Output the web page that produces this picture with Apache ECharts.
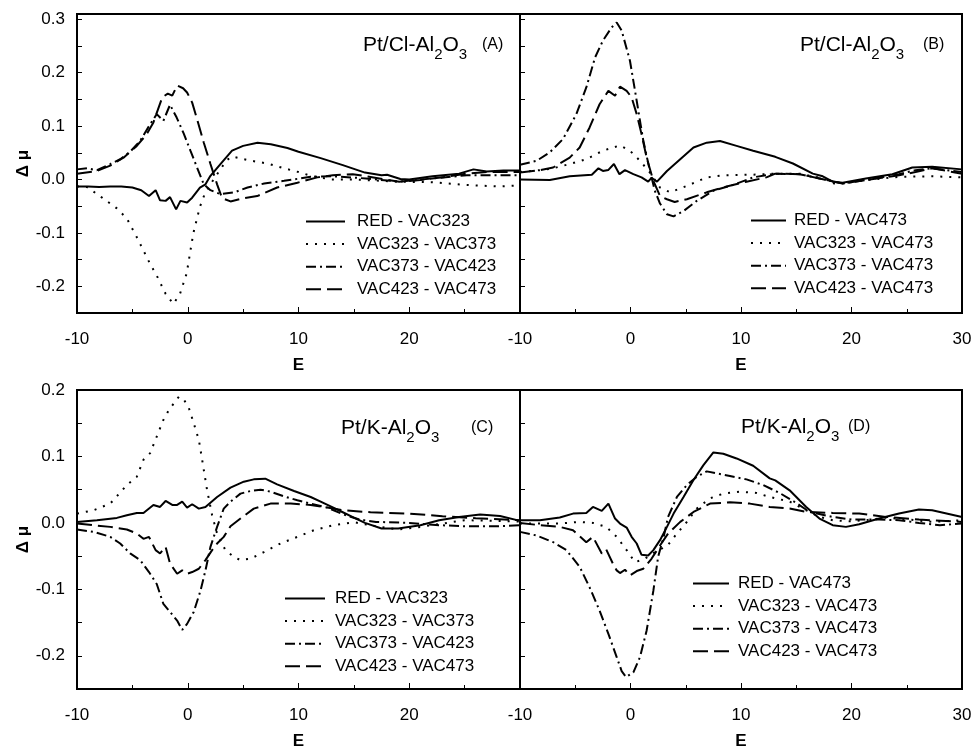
<!DOCTYPE html>
<html>
<head>
<meta charset="utf-8">
<script src="https://cdn.jsdelivr.net/npm/echarts@6/dist/echarts.min.js"></script>
<style>
  html, body { margin: 0; padding: 0; background: #fff; }
  #chart { width: 972px; height: 746px; }
</style>
</head>
<body>
<div id="chart"></div>
<script>
// ---- tick labels ----
const X_LABELS = [-10, 0, 10, 20, 30];
const Y_LABELS_TOP = [-0.2, -0.1, 0.0, 0.1, 0.2, 0.3];
const Y_LABELS_BOTTOM = [-0.2, -0.1, 0.0, 0.1, 0.2];

// ---- legend names ----
const NAMES_AC = ['RED - VAC323', 'VAC323 - VAC373', 'VAC373 - VAC423', 'VAC423 - VAC473'];
const NAMES_BD = ['RED - VAC473', 'VAC323 - VAC473', 'VAC373 - VAC473', 'VAC423 - VAC473'];

// ---- panel labels ----
const SAMPLES = ['Pt/Cl-Al', 'Pt/Cl-Al', 'Pt/K-Al', 'Pt/K-Al'];
const PANEL_TAGS = ['(A)', '(B)', '(C)', '(D)'];

// ---- Panel A : Pt/Cl-Al2O3, successive differences ----
const A_RED = [[-10,-0.013],[-9,-0.013],[-8,-0.014],[-7,-0.013],[-6,-0.013],[-5,-0.015],[-4.2,-0.02],[-3.5,-0.031],[-2.9,-0.02],[-2.5,-0.039],[-2,-0.04],[-1.6,-0.033],[-1.05,-0.056],[-0.66,-0.04],[-0.06,-0.043],[0.4,-0.034],[1.1,-0.015],[1.6,-0.009],[2.05,0.007],[2.95,0.029],[4,0.054],[5,0.063],[6.3,0.069],[7.5,0.066],[9,0.059],[10,0.052],[12,0.04],[14,0.027],[16,0.013],[17.5,0.008],[18,0.009],[19.2,0.001],[20,0.0],[22.1,0.006],[24.5,0.011],[25.8,0.019],[27,0.015],[28.5,0.017],[30,0.017]];
const A_VAC323 = [[-10,-0.013],[-9.1,-0.014],[-7.8,-0.033],[-6.4,-0.054],[-5.5,-0.073],[-4.6,-0.108],[-3.4,-0.158],[-2.8,-0.18],[-2,-0.214],[-1.3,-0.233],[-0.7,-0.214],[-0.1,-0.176],[0.5,-0.101],[1.1,-0.051],[1.55,-0.026],[2.3,-0.001],[3.5,0.036],[4,0.043],[5.5,0.036],[7.2,0.03],[8.7,0.021],[10,0.014],[11.3,0.006],[13,0.0],[15,0.0],[17,-0.002],[19,-0.004],[22,-0.005],[25,-0.01],[28,-0.013],[30,-0.011]];
const A_VAC373 = [[-10,0.019],[-9.1,0.021],[-8.2,0.0175],[-7,0.029],[-6.1,0.038],[-5.2,0.052],[-4.3,0.0725],[-3.5,0.1],[-2.8,0.1225],[-2.2,0.11],[-1.6,0.14],[-1,0.116],[-0.36,0.086],[0.24,0.054],[0.84,0.0225],[1.45,-0.009],[2.05,-0.02],[2.95,-0.0275],[4.2,-0.024],[5.4,-0.015],[6.9,-0.0075],[8.7,-0.0025],[11.1,0.005],[13.1,0.006],[16.1,0.002],[19.1,-0.004],[22.1,0.002],[25.2,0.008],[28.2,0.008],[30,0.008]];
const A_VAC423 = [[-10,0.011],[-8.2,0.016],[-7,0.026],[-5.8,0.041],[-4.6,0.063],[-3.7,0.085],[-3.1,0.107],[-2.3,0.154],[-1.8,0.161],[-1.4,0.157],[-0.96,0.176],[-0.42,0.171],[-0.06,0.163],[0.4,0.144],[0.84,0.113],[1.45,0.069],[2.05,0.029],[2.65,-0.009],[3.1,-0.035],[3.86,-0.041],[5.06,-0.035],[6.27,-0.031],[8.07,-0.015],[9.9,-0.006],[11.7,0.004],[13.1,0.008],[14.9,0.01],[17.3,0.002],[19.1,-0.004],[21,-0.001],[23.3,0.005],[25.2,0.011],[27,0.014],[30,0.014]];

// ---- Panel B : Pt/Cl-Al2O3, differences against VAC473 ----
const B_RED = [[-10,0.0],[-7.3,-0.001],[-5.5,0.006],[-3.5,0.009],[-2.9,0.021],[-2.5,0.016],[-2,0.018],[-1.5,0.029],[-1,0.01],[-0.5,0.0175],[0.26,0.01],[1,0.004],[1.6,-0.004],[1.9,0.003],[2.4,-0.004],[3.3,0.016],[4.5,0.038],[5.7,0.06],[6.9,0.069],[8.1,0.072],[9.6,0.063],[11.1,0.054],[13.1,0.0425],[14.7,0.03],[16.5,0.011],[17.4,0.006],[18.3,-0.004],[19.2,-0.006],[21.3,0.002],[23.7,0.01],[25.5,0.0225],[27.3,0.024],[30,0.019]];
const B_VAC323 = [[-10,0.014],[-8.2,0.0175],[-7,0.021],[-5.5,0.029],[-4,0.038],[-2.5,0.054],[-0.95,0.064],[-0.05,0.054],[0.86,0.035],[1.76,0.013],[2.67,-0.015],[3.6,-0.024],[5.1,-0.012],[6.9,0.004],[8.4,0.008],[11.1,0.009],[13.1,0.011],[15.3,0.011],[17.4,0.002],[18.6,-0.009],[21.3,-0.001],[24.3,0.005],[27.3,0.006],[30,0.004]];
const B_VAC373 = [[-10,0.0275],[-8.5,0.035],[-7.3,0.051],[-6.1,0.076],[-4.9,0.1225],[-4,0.1725],[-3.2,0.229],[-2.5,0.26],[-1.7,0.285],[-1.25,0.294],[-0.8,0.279],[-0.05,0.2225],[0.56,0.1475],[1.16,0.0725],[1.76,0.016],[2.2,-0.021],[2.67,-0.045],[3.3,-0.065],[3.9,-0.069],[4.8,-0.059],[6,-0.04],[7.5,-0.021],[9.3,-0.01],[11.1,0.004],[13.1,0.011],[15.3,0.01],[17.1,0.002],[19.2,-0.0075],[21.3,-0.001],[24.3,0.01],[25.8,0.0175],[27.3,0.021],[30,0.014]];
const B_VAC423 = [[-10,0.013],[-8.2,0.0175],[-7,0.0225],[-5.5,0.041],[-4.6,0.06],[-3.7,0.0975],[-2.8,0.141],[-2,0.166],[-1.4,0.157],[-0.95,0.174],[-0.35,0.166],[0.1,0.154],[0.56,0.1225],[1,0.085],[1.46,0.041],[2.07,-0.0025],[2.67,-0.031],[3.3,-0.037],[4,-0.042],[5.1,-0.037],[6.9,-0.024],[8.7,-0.013],[10.5,-0.004],[12.3,0.004],[13.1,0.011],[15.3,0.01],[17.1,0.002],[19.2,-0.0075],[21.3,-0.001],[24.3,0.008],[25.8,0.014],[27.3,0.021],[30,0.011]];

// ---- Panel C : Pt/K-Al2O3, successive differences ----
const C_RED = [[-10,0.0015],[-8.2,0.004],[-6.4,0.0075],[-5.5,0.0115],[-4.6,0.015],[-4,0.015],[-3.1,0.027],[-2.5,0.024],[-2,0.033],[-1.4,0.027],[-0.96,0.027],[-0.5,0.032],[-0.06,0.023],[0.4,0.028],[1,0.0215],[1.6,0.024],[2.65,0.039],[3.86,0.053],[5.06,0.062],[5.96,0.0655],[7,0.0665],[8.07,0.058],[9.6,0.048],[11.1,0.039],[12,0.032],[13,0.024],[14,0.016],[15,0.008],[16,0.0],[17.5,-0.0085],[19,-0.0085],[21,-0.0035],[22.7,0.004],[24.5,0.009],[26.4,0.0125],[28.2,0.0105],[30,0.003]];
const C_VAC323 = [[-10,0.014],[-8.5,0.019],[-7,0.029],[-5.5,0.057],[-4.6,0.0695],[-4,0.095],[-3.4,0.105],[-2.8,0.13],[-2.2,0.155],[-1.7,0.17],[-1.25,0.18],[-0.8,0.19],[-0.36,0.186],[0.1,0.173],[0.54,0.15],[1,0.125],[1.3,0.095],[1.75,0.049],[2.2,0.0115],[2.65,-0.016],[3.4,-0.041],[4.15,-0.051],[4.75,-0.056],[5.66,-0.054],[6.87,-0.044],[8.37,-0.031],[9.9,-0.021],[11.4,-0.011],[13,-0.004],[15,0.001],[17,-0.005],[19,-0.01],[21,-0.006],[23,-0.001],[25,0.004],[28,0.003],[30,0.002]];
const C_VAC373 = [[-10,-0.01],[-8.5,-0.0135],[-7,-0.021],[-6.1,-0.031],[-5.2,-0.046],[-4.3,-0.056],[-3.5,-0.074],[-2.8,-0.092],[-2.2,-0.122],[-1.6,-0.134],[-0.96,-0.147],[-0.5,-0.161],[-0.06,-0.152],[0.54,-0.134],[1.15,-0.102],[1.6,-0.0715],[2.05,-0.036],[2.65,-0.006],[3.25,0.0215],[3.86,0.032],[4.76,0.044],[5.66,0.048],[6.57,0.05],[7.47,0.047],[8.67,0.04],[9.9,0.034],[11.1,0.029],[12.6,0.023],[14,0.013],[15.5,0.005],[17,0.0015],[20,0.0],[22.7,-0.0035],[25,-0.005],[28,-0.005],[30,-0.0035]];
const C_VAC423 = [[-10,-0.001],[-8.5,-0.0035],[-7,-0.006],[-5.5,-0.01],[-4.6,-0.016],[-4,-0.024],[-3.5,-0.021],[-2.9,-0.041],[-2.5,-0.046],[-2,-0.036],[-1.6,-0.061],[-0.96,-0.0765],[-0.5,-0.0715],[-0.06,-0.0765],[0.4,-0.074],[1,-0.069],[1.6,-0.056],[2.2,-0.041],[2.65,-0.031],[3.25,-0.021],[3.86,-0.005],[4.76,0.0065],[5.96,0.0215],[7.47,0.029],[9.3,0.029],[11.1,0.027],[12.6,0.023],[14,0.019],[16.5,0.016],[20,0.014],[23,0.01],[26,0.007],[30,0.004]];

// ---- Panel D : Pt/K-Al2O3, differences against VAC473 ----
const D_RED = [[-10,0.004],[-8.2,0.004],[-6.4,0.008],[-5.2,0.014],[-4,0.015],[-3.4,0.024],[-2.6,0.018],[-2,0.029],[-1.4,0.0065],[-0.95,-0.001],[-0.35,-0.007],[0.1,-0.021],[0.56,-0.031],[1,-0.048],[1.6,-0.049],[2.07,-0.041],[2.67,-0.026],[3.3,-0.006],[3.9,0.014],[4.8,0.039],[5.7,0.0645],[6.6,0.087],[7.5,0.106],[8.4,0.104],[9.6,0.097],[11.1,0.086],[12.6,0.067],[13.1,0.064],[14.4,0.049],[15.9,0.024],[17.1,0.0065],[18.3,-0.0035],[19.5,-0.006],[20.7,-0.002],[22.5,0.0065],[24.3,0.014],[26.1,0.02],[27.3,0.019],[30,0.009]];
const D_VAC323 = [[-10,-0.001],[-8,-0.001],[-6.4,-0.001],[-4.6,0.0015],[-3.4,0.0],[-2.2,-0.006],[-1.25,-0.021],[-0.35,-0.041],[0.4,-0.059],[1.2,-0.055],[2.1,-0.045],[2.9,-0.038],[3.4,-0.033],[4.2,-0.016],[5.1,0.0015],[6,0.0215],[7.2,0.037],[8.4,0.044],[9.9,0.047],[11.4,0.045],[12.6,0.039],[14.4,0.032],[15.9,0.019],[17.1,0.009],[18.3,0.004],[19.8,0.0025],[21.3,0.004],[23.1,0.008],[24.9,0.0055],[27.3,0.0015],[30,0.004]];
const D_VAC373 = [[-10,-0.0135],[-8.5,-0.019],[-7,-0.029],[-5.8,-0.041],[-4.6,-0.066],[-3.7,-0.097],[-2.8,-0.132],[-2,-0.167],[-1.25,-0.202],[-0.8,-0.223],[-0.4,-0.232],[0.26,-0.225],[0.86,-0.202],[1.46,-0.162],[2.07,-0.102],[2.5,-0.051],[3,-0.021],[3.4,0.009],[4.2,0.039],[5.1,0.057],[6,0.0695],[6.9,0.0775],[7.8,0.0745],[9,0.0705],[10.5,0.0655],[12,0.057],[13.5,0.045],[15,0.03],[16.2,0.0165],[18.3,0.009],[20,0.005],[22.5,0.005],[24.3,0.004],[26.1,0.0],[28,-0.0035],[30,-0.001]];
const D_VAC423 = [[-10,0.0],[-8.2,-0.0035],[-6.4,-0.006],[-5.2,-0.011],[-4,-0.029],[-3.4,-0.021],[-2.6,-0.046],[-2.2,-0.04],[-1.6,-0.061],[-1.25,-0.0715],[-0.95,-0.0755],[-0.5,-0.0705],[-0.05,-0.079],[0.56,-0.0725],[1.16,-0.069],[1.9,-0.054],[2.67,-0.034],[3.4,-0.016],[4.5,0.0015],[5.7,0.0165],[7.2,0.029],[9,0.031],[10.8,0.029],[12.6,0.024],[14.4,0.0215],[15.9,0.0165],[18.3,0.015],[20.7,0.014],[23.1,0.009],[26.1,0.005],[30,0.0015]];

// ---------------------------------------------------------------
const FONT = '"Liberation Sans", Arial, Helvetica, sans-serif';
const INK = '#000';

const panels = [
  { data: [A_RED, A_VAC323, A_VAC373, A_VAC423], names: NAMES_AC, ymax: 0.31, yLabels: Y_LABELS_TOP,
    grid: { left: 77, top: 14, width: 443, height: 299 }, showY: true, hideMaxX: true,
    legend: { left: 305, top: 213, itemWidth: 39, pad: 7 }, title: { left: 363, cy: 45, tagLeft: 482 } },
  { data: [B_RED, B_VAC323, B_VAC373, B_VAC423], names: NAMES_BD, ymax: 0.31, yLabels: Y_LABELS_TOP,
    grid: { left: 520, top: 14, width: 442, height: 299 }, showY: false, hideMaxX: false,
    legend: { left: 750, top: 212, itemWidth: 35, pad: 3 }, title: { left: 800, cy: 45, tagLeft: 923 } },
  { data: [C_RED, C_VAC323, C_VAC373, C_VAC423], names: NAMES_AC, ymax: 0.2, yLabels: Y_LABELS_BOTTOM,
    grid: { left: 77, top: 390, width: 443, height: 299 }, showY: true, hideMaxX: true,
    legend: { left: 284, top: 590, itemWidth: 40, pad: 5 }, title: { left: 341, cy: 428, tagLeft: 471 } },
  { data: [D_RED, D_VAC323, D_VAC373, D_VAC423], names: NAMES_BD, ymax: 0.2, yLabels: Y_LABELS_BOTTOM,
    grid: { left: 520, top: 390, width: 442, height: 299 }, showY: false, hideMaxX: false,
    legend: { left: 692, top: 575, itemWidth: 36, pad: 4 }, title: { left: 741, cy: 427, tagLeft: 848 } }
];

// solid, dotted, dash-dot, dashed
const LINE_TYPES = [
  { type: 'solid', width: 2 },
  { type: [2, 7], width: 2 },
  { type: [10, 4, 2, 4], width: 2 },
  { type: [15, 6], width: 2 }
];

// text measuring for the chemical-formula panel labels
const measureCtx = document.createElement('canvas').getContext('2d');
function textWidth(str, size) {
  measureCtx.font = size + 'px ' + FONT;
  return measureCtx.measureText(str).width;
}

const MAIN_SIZE = 21, SUB_SIZE = 15, TAG_SIZE = 16, SUB_DROP = 10;

function formulaLabel(i, t) {
  const parts = [
    { text: SAMPLES[i], size: MAIN_SIZE, dy: 0 },
    { text: '2', size: SUB_SIZE, dy: SUB_DROP },
    { text: 'O', size: MAIN_SIZE, dy: 0 },
    { text: '3', size: SUB_SIZE, dy: SUB_DROP }
  ];
  const children = [];
  let x = t.left;
  parts.forEach(part => {
    children.push({
      type: 'text', x: x, y: t.cy + part.dy, silent: true,
      style: { text: part.text, font: part.size + 'px ' + FONT, fill: INK, align: 'left', verticalAlign: 'middle' }
    });
    x += textWidth(part.text, part.size);
  });
  children.push({
    type: 'text', x: t.tagLeft, y: t.cy, silent: true,
    style: { text: PANEL_TAGS[i], font: TAG_SIZE + 'px ' + FONT, fill: INK, align: 'left', verticalAlign: 'middle' }
  });
  return { type: 'group', children: children };
}

const grids = [], xAxes = [], yAxes = [], series = [], legends = [], graphics = [];

panels.forEach((p, i) => {
  grids.push(Object.assign({
    show: true, borderColor: INK, borderWidth: 2, backgroundColor: 'transparent',
    containLabel: false, outerBoundsMode: 'none'
  }, p.grid));

  xAxes.push({
    type: 'value', gridIndex: i, min: -10, max: 30, interval: 10,
    name: 'E', nameLocation: 'middle', nameGap: 44,
    nameTextStyle: { fontFamily: FONT, fontSize: 17, fontWeight: 'bold', color: INK },
    axisLine: { show: true, onZero: false, lineStyle: { color: INK, width: 2 } },
    axisTick: { show: true, inside: true, length: 6, lineStyle: { color: INK, width: 1 } },
    minorTick: { show: true, splitNumber: 2, length: 4, lineStyle: { color: INK, width: 1 } },
    splitLine: { show: false }, minorSplitLine: { show: false },
    axisLabel: {
      show: true, margin: 18, fontFamily: FONT, fontSize: 17, color: INK,
      showMinLabel: true, showMaxLabel: true,
      formatter: v => {
        const r = Math.round(v);
        if (!X_LABELS.includes(r)) return '';
        if (p.hideMaxX && r === 30) return '';
        return String(r);
      }
    }
  });

  yAxes.push({
    type: 'value', gridIndex: i, min: -0.25, max: p.ymax, interval: 0.05,
    name: p.showY ? 'Δ μ' : '', nameLocation: 'middle', nameGap: 45,
    nameTextStyle: { fontFamily: FONT, fontSize: 17, fontWeight: 'bold', color: INK },
    axisLine: { show: true, onZero: false, lineStyle: { color: INK, width: 2 } },
    axisTick: { show: true, inside: true, length: 5, lineStyle: { color: INK, width: 1 } },
    splitLine: { show: false },
    axisLabel: {
      show: p.showY, margin: 12, fontFamily: FONT, fontSize: 17, color: INK,
      showMinLabel: true, showMaxLabel: true,
      formatter: v => {
        const t = Math.round(v * 100) / 100;
        const hit = p.yLabels.some(l => Math.abs(l - t) < 1e-9);
        return hit ? (Math.round(t * 10) / 10).toFixed(1) : '';
      }
    }
  });

  p.data.forEach((d, k) => {
    series.push({
      type: 'line', name: p.names[k], xAxisIndex: i, yAxisIndex: i,
      data: d, symbol: 'none', smooth: false, animation: false, silent: true,
      lineStyle: { color: INK, width: LINE_TYPES[k].width, type: LINE_TYPES[k].type },
      itemStyle: { color: INK }
    });
  });

  legends.push({
    orient: 'vertical', left: p.legend.left, top: p.legend.top, padding: 0,
    itemWidth: p.legend.itemWidth, itemHeight: 14, itemGap: 5.6,
    selectedMode: false, data: p.names,
    itemStyle: { opacity: 0, borderWidth: 0 },
    textStyle: { fontFamily: FONT, fontSize: 17, color: INK, padding: [0, 0, 0, p.legend.pad] }
  });

  graphics.push(formulaLabel(i, p.title));
});

const chart = echarts.init(document.getElementById('chart'), null, { renderer: 'canvas' });
chart.setOption({
  backgroundColor: '#fff',
  animation: false,
  textStyle: { fontFamily: FONT, color: INK },
  legend: legends,
  grid: grids,
  xAxis: xAxes,
  yAxis: yAxes,
  series: series,
  graphic: graphics
});
</script>
</body>
</html>
